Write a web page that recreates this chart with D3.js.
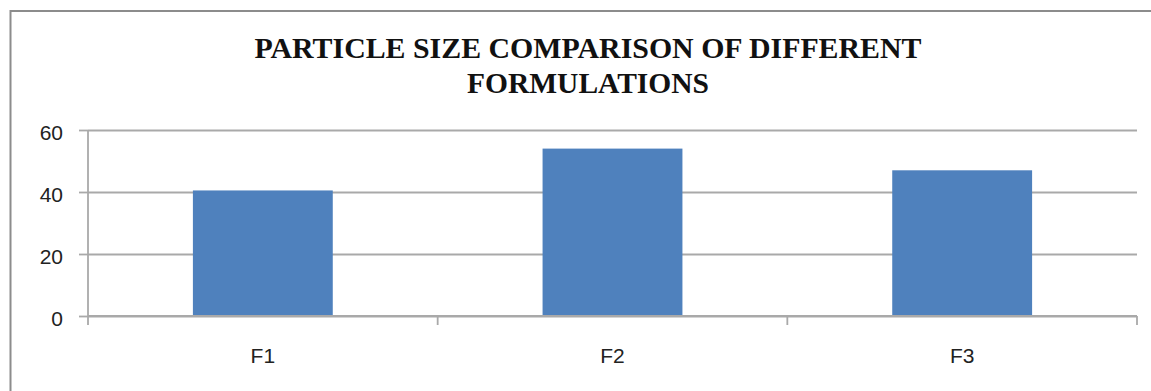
<!DOCTYPE html>
<html>
<head>
<meta charset="utf-8">
<script src="https://cdn.jsdelivr.net/npm/d3@7"></script>
<style>
  html, body { margin: 0; padding: 0; background: #fff; overflow: hidden; }
</style>
</head>
<body>
<div id="chart"></div>
<script>
// chart values
const categories = ["F1", "F2", "F3"];
const particleSize = [40.5, 54, 47];
const yTicks = [0, 20, 40, 60];
const titleLines = ["PARTICLE SIZE COMPARISON OF DIFFERENT", "FORMULATIONS"];

(function () {
  const W = 1151, H = 391;
  const margin = { top: 130, left: 88, right: 14, bottom: 75 };
  const width = W - margin.left - margin.right,
        height = H - margin.top - margin.bottom;

  const svg = d3.select("#chart").append("svg")
    .attr("width", W)
    .attr("height", H);

  // outer chart frame (cropped: only top and left edges show)
  svg.append("rect")
    .attr("x", 10.5).attr("y", 11)
    .attr("width", W + 20).attr("height", H + 20)
    .attr("fill", "none")
    .attr("stroke", "#8c8c8c")
    .attr("stroke-width", 2);

  // title, two lines of bold serif
  const titleWidths = [667, 242];
  svg.append("g").selectAll("text")
    .data(titleLines)
    .enter().append("text")
    .attr("x", 588)
    .attr("y", (d, i) => 57.5 + i * 35)
    .attr("text-anchor", "middle")
    .attr("font-family", "'Liberation Serif', 'Times New Roman', serif")
    .attr("font-weight", "bold")
    .attr("font-size", "30px")
    .attr("fill", "#111")
    .attr("textLength", (d, i) => titleWidths[i])
    .attr("lengthAdjust", "spacingAndGlyphs")
    .text(d => d);

  const g = svg.append("g")
    .attr("transform", `translate(${margin.left},${margin.top})`);

  const x = d3.scaleBand()
    .domain(categories)
    .range([0, width])
    .paddingInner(0.6)
    .paddingOuter(0.3);

  const y = d3.scaleLinear()
    .domain([0, 60])
    .range([height, 0]);

  const gridColor = "#a9a9a9";

  // horizontal gridlines
  g.append("g")
    .call(d3.axisLeft(y).tickValues(yTicks).tickSize(-width).tickFormat(""))
    .call(a => a.select(".domain").remove())
    .call(a => a.selectAll("line").attr("stroke", gridColor).attr("stroke-width", 1.8));

  // bars
  g.selectAll(".bar")
    .data(categories)
    .enter().append("rect")
    .attr("class", "bar")
    .attr("x", d => x(d))
    .attr("y", (d, i) => y(particleSize[i]))
    .attr("width", x.bandwidth())
    .attr("height", (d, i) => height - y(particleSize[i]))
    .attr("fill", "#4f81bd");

  // y axis
  const yAxis = g.append("g")
    .call(d3.axisLeft(y).tickValues(yTicks).tickSize(9).tickPadding(16));
  yAxis.select(".domain").remove();
  yAxis.selectAll("line").attr("stroke", gridColor).attr("stroke-width", 1.8);
  yAxis.selectAll("text")
    .attr("font-family", "'Liberation Sans', Arial, sans-serif")
    .attr("font-size", "21px")
    .attr("fill", "#222")
    .attr("dy", "0.45em");

  g.append("line")
    .attr("x1", 0).attr("x2", 0)
    .attr("y1", 0).attr("y2", height + 9)
    .attr("stroke", gridColor).attr("stroke-width", 1.8);

  // x axis: baseline, category boundary ticks and labels
  g.append("line")
    .attr("x1", 0).attr("x2", width)
    .attr("y1", height).attr("y2", height)
    .attr("stroke", gridColor).attr("stroke-width", 1.8);

  const step = width / categories.length;
  g.append("g").selectAll("line")
    .data(d3.range(1, categories.length + 1))
    .enter().append("line")
    .attr("x1", i => i * step).attr("x2", i => i * step)
    .attr("y1", height).attr("y2", height + 9)
    .attr("stroke", gridColor).attr("stroke-width", 1.8);

  const xAxis = g.append("g")
    .attr("transform", `translate(0,${height})`)
    .call(d3.axisBottom(x).tickSize(0).tickPadding(32));
  xAxis.select(".domain").remove();
  xAxis.selectAll("text")
    .attr("font-family", "'Liberation Sans', Arial, sans-serif")
    .attr("font-size", "21px")
    .attr("fill", "#222");
})();
</script>
</body>
</html>
